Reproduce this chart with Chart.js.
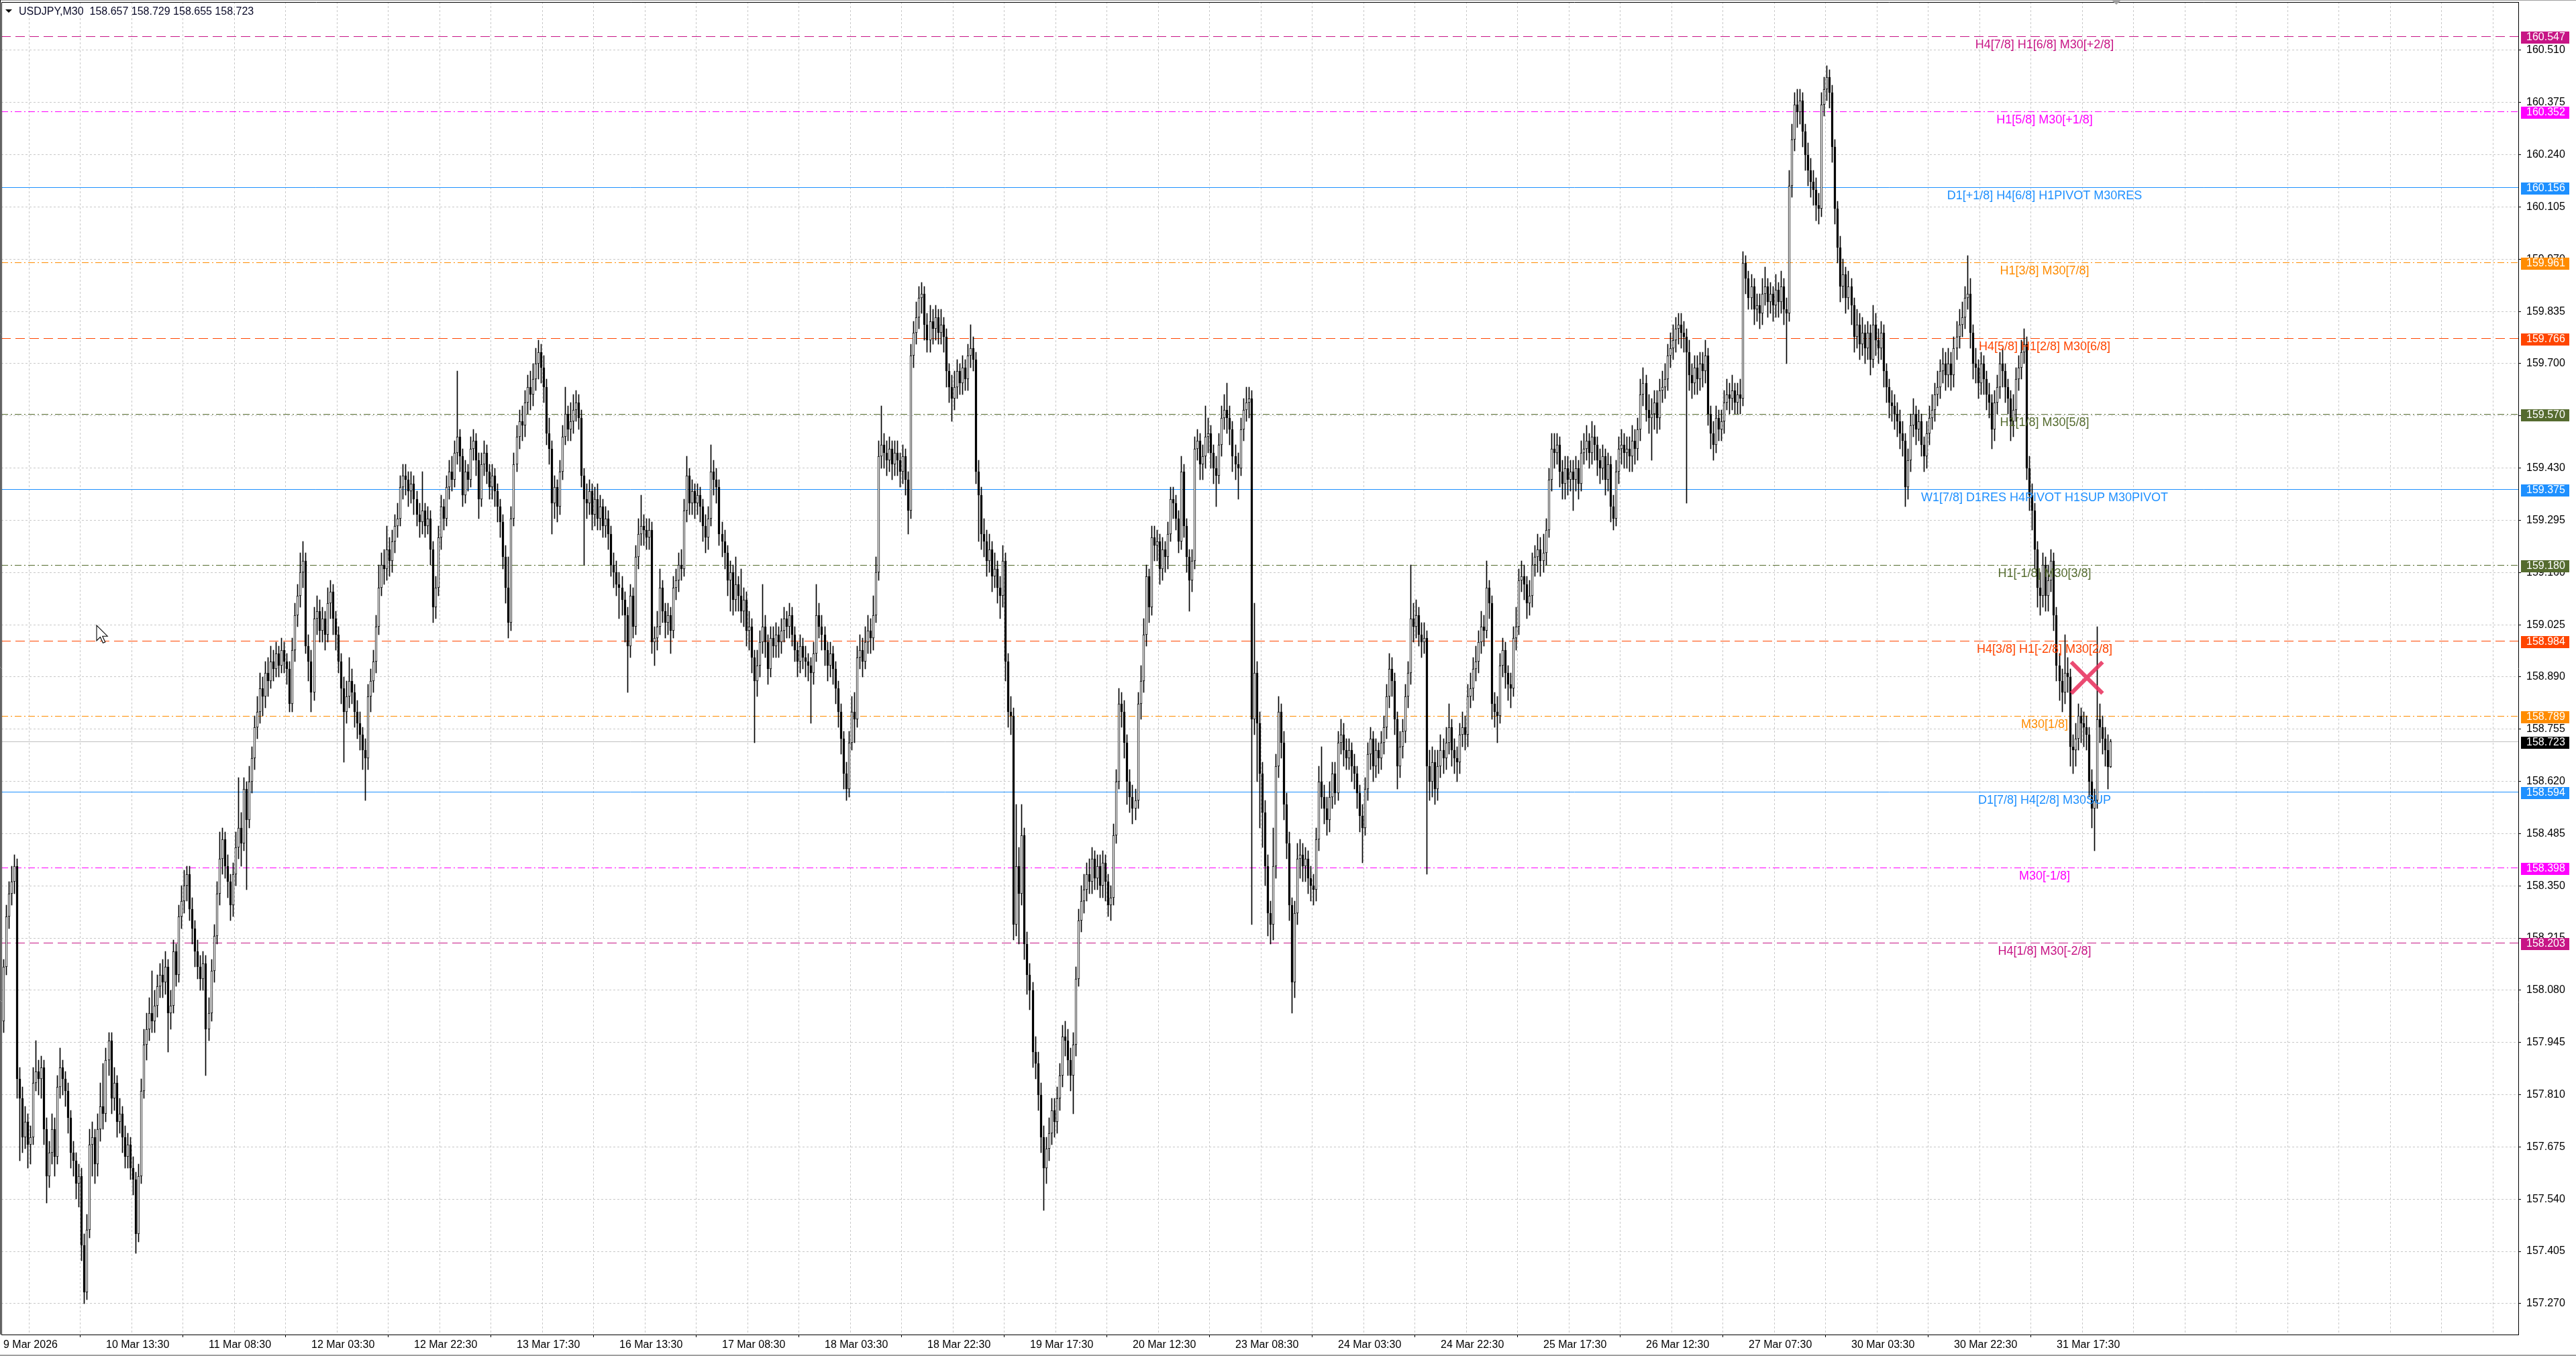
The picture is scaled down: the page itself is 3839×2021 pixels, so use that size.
<!DOCTYPE html>
<html>
<head>
<meta charset="utf-8">
<title>USDJPY,M30</title>
<script src="https://cdn.jsdelivr.net/npm/chart.js@4.4.1/dist/chart.umd.min.js"></script>
<style>
  html, body { margin: 0; padding: 0; background: #fff; }
  canvas { display: block; }
</style>
</head>
<body>
<canvas id="chart" width="3839" height="2021"></canvas>
<script>
// USDJPY M30 bars, one value per bar (open = previous close)
const firstOpen = 158.00;

const closes = [
  158.14,158.27,158.33,158.36,158.40,157.85,157.80,157.70,157.74,157.68,157.70,157.84,157.87,157.85,157.88,157.72,157.60,157.66,157.72,157.65,
  157.83,157.88,157.85,157.82,157.75,157.66,157.64,157.58,157.60,157.42,157.30,157.46,157.68,157.70,157.63,157.72,157.78,157.76,157.90,157.95,
  157.80,157.84,157.74,157.76,157.70,157.65,157.68,157.62,157.59,157.45,157.60,157.82,157.94,157.98,158.02,158.00,158.04,158.09,158.12,158.10,
  158.14,158.02,158.04,158.18,158.12,158.27,158.31,158.35,158.38,158.29,158.24,158.18,158.14,158.11,158.15,157.98,158.02,158.13,158.22,158.33,
  158.42,158.47,158.40,158.36,158.30,158.38,158.45,158.50,158.46,158.60,158.52,158.62,158.68,158.76,158.80,158.86,158.84,158.90,158.88,158.93,
  158.91,158.95,158.92,158.96,158.93,158.91,158.82,158.96,159.05,159.10,159.16,159.19,158.97,158.93,158.85,159.04,159.06,159.01,159.04,159.00,
  159.08,159.11,159.04,159.00,158.93,158.86,158.80,158.84,158.88,158.85,158.80,158.77,158.74,158.70,158.68,158.84,158.88,158.93,159.02,159.12,
  159.18,159.17,159.22,159.19,159.24,159.28,159.30,159.38,159.41,159.40,159.37,159.39,159.35,159.31,159.29,159.32,159.28,159.30,159.22,159.07,
  159.12,159.25,159.33,159.30,159.38,159.42,159.40,159.47,159.51,159.46,159.36,159.42,159.40,159.48,159.50,159.45,159.35,159.44,159.47,159.42,
  159.38,159.41,159.37,159.33,159.29,159.20,159.12,159.03,159.30,159.44,159.51,159.55,159.54,159.60,159.64,159.62,159.66,159.70,159.73,159.69,
  159.64,159.52,159.48,159.34,159.38,159.33,159.42,159.51,159.57,159.53,159.55,159.58,159.60,159.56,159.41,159.35,159.34,159.37,159.31,159.35,
  159.30,159.33,159.28,159.30,159.26,159.18,159.16,159.13,159.12,159.09,159.05,158.97,159.10,159.02,159.20,159.26,159.28,159.27,159.25,159.27,
  158.98,158.99,159.02,159.12,159.06,159.03,159.05,159.01,159.12,159.14,159.18,159.17,159.32,159.41,159.34,159.37,159.34,159.36,159.33,159.28,
  159.25,159.30,159.42,159.40,159.38,159.26,159.24,159.21,159.14,159.16,159.09,159.13,159.10,159.06,159.09,159.01,159.02,158.94,158.88,158.92,
  158.98,159.02,158.98,158.91,158.99,158.97,159.00,158.98,159.01,159.04,159.02,159.05,159.00,158.96,158.93,158.97,158.94,158.93,158.92,158.90,
  158.95,159.05,159.02,159.00,158.96,158.92,158.95,158.91,158.86,158.80,158.73,158.64,158.60,158.72,158.80,158.78,158.94,158.96,158.93,158.98,
  159.01,158.99,159.05,159.16,159.46,159.49,159.47,159.45,159.48,159.44,159.47,159.45,159.42,159.46,159.40,159.32,159.72,159.78,159.82,159.87,
  159.88,159.80,159.76,159.81,159.79,159.82,159.78,159.80,159.77,159.68,159.64,159.61,159.64,159.68,159.65,159.69,159.66,159.72,159.74,159.71,
  159.42,159.36,159.26,159.24,159.19,159.22,159.15,159.17,159.12,159.10,159.19,158.93,158.80,158.79,158.25,158.40,158.33,158.48,158.20,158.12,
  158.08,157.92,157.89,157.81,157.70,157.62,157.67,157.71,157.77,157.74,157.80,157.86,157.96,157.95,157.90,157.86,157.94,158.11,158.26,158.31,
  158.34,158.38,158.36,158.42,158.37,158.40,158.35,158.41,158.36,158.30,158.32,158.48,158.62,158.82,158.80,158.72,158.62,158.58,158.55,158.57,
  158.82,158.88,159.00,159.15,159.07,159.25,159.23,159.24,159.17,159.22,159.20,159.26,159.35,159.34,159.30,159.24,159.42,159.28,159.20,159.14,
  159.19,159.48,159.50,159.44,159.46,159.51,159.52,159.47,159.43,159.41,159.49,159.56,159.58,159.56,159.53,159.46,159.44,159.43,159.53,159.58,
  159.60,159.61,158.78,158.90,158.77,158.64,158.54,158.40,158.28,158.25,158.40,158.66,158.80,158.72,158.56,158.46,158.30,158.10,158.28,158.42,
  158.43,158.40,158.42,158.37,158.35,158.34,158.47,158.62,158.58,158.55,158.52,158.58,158.64,158.59,158.72,158.74,158.70,158.68,158.70,158.66,
  158.64,158.59,158.53,158.50,158.60,158.69,158.73,158.66,158.70,158.68,158.72,158.76,158.84,158.91,158.88,158.78,158.66,158.71,158.75,158.84,
  158.90,159.04,159.02,159.05,159.00,158.98,158.99,158.66,158.62,158.67,158.60,158.66,158.70,158.68,158.72,158.76,158.70,158.68,158.67,158.74,
  158.76,158.74,158.84,158.86,158.91,158.93,158.98,159.02,159.01,159.12,159.08,158.82,158.80,158.79,158.92,158.96,158.90,158.87,158.86,158.99,
  159.02,159.14,159.15,159.13,159.08,159.10,159.18,159.20,159.22,159.19,159.21,159.27,159.40,159.48,159.47,159.49,159.42,159.39,159.43,159.40,
  159.42,159.40,159.43,159.39,159.47,159.48,159.50,159.47,159.51,159.49,159.45,159.43,159.46,159.40,159.44,159.33,159.30,159.42,159.48,159.49,
  159.47,159.48,159.46,159.50,159.48,159.53,159.62,159.65,159.58,159.56,159.57,159.60,159.56,159.63,159.64,159.66,159.72,159.74,159.76,159.79,
  159.80,159.78,159.77,159.73,159.67,159.65,159.69,159.66,159.70,159.68,159.72,159.57,159.52,159.49,159.56,159.53,159.55,159.60,159.62,159.61,
  159.63,159.60,159.62,159.61,159.96,159.92,159.87,159.90,159.84,159.85,159.83,159.88,159.90,159.86,159.88,159.85,159.89,159.86,159.90,159.84,
  159.83,160.16,160.28,160.37,160.35,160.38,160.30,160.24,160.20,160.17,160.15,160.11,160.10,160.37,160.41,160.44,160.40,160.26,160.10,160.00,
  159.90,159.93,159.87,159.90,159.85,159.77,159.80,159.75,159.78,159.74,159.78,159.71,159.80,159.76,159.74,159.78,159.68,159.64,159.60,159.59,
  159.57,159.55,159.52,159.50,159.38,159.45,159.54,159.57,159.53,159.55,159.49,159.46,159.52,159.56,159.58,159.62,159.64,159.68,159.70,159.67,
  159.70,159.67,159.74,159.77,159.80,159.82,159.87,159.88,159.78,159.70,159.69,159.65,159.70,159.66,159.62,159.60,159.53,159.60,159.64,159.70,
  159.68,159.64,159.61,159.55,159.58,159.66,159.69,159.73,159.75,159.43,159.36,159.32,159.22,159.12,159.10,159.18,159.10,159.14,159.19,159.05,
  158.92,158.88,158.85,158.90,158.89,158.71,158.70,158.73,158.79,158.77,158.76,158.74,158.62,158.55,158.57,158.78,158.76,158.73,158.70,158.657,158.723
];

const highs = [
  158.16,158.30,158.36,158.40,158.43,158.42,157.88,157.83,157.78,157.76,157.73,157.88,157.95,157.90,157.91,157.90,157.75,157.69,157.76,157.75,
  157.86,157.93,157.90,157.87,157.84,157.77,157.69,157.66,157.63,157.62,157.45,157.50,157.72,157.74,157.72,157.76,157.84,157.89,157.93,157.97,
  157.97,157.88,157.86,157.80,157.78,157.73,157.71,157.70,157.65,157.61,157.63,157.85,157.98,158.02,158.06,158.13,158.08,158.12,158.15,158.16,
  158.18,158.16,158.08,158.21,158.20,158.30,158.35,158.39,158.40,158.40,158.32,158.26,158.21,158.17,158.18,158.17,158.06,158.16,158.25,158.36,
  158.49,158.50,158.49,158.43,158.38,158.41,158.49,158.63,158.54,158.63,158.62,158.66,158.71,158.79,158.84,158.90,158.89,158.93,158.94,158.97,
  158.96,158.98,158.97,158.99,158.98,158.95,158.93,158.99,159.08,159.13,159.21,159.24,159.21,159.00,158.96,159.07,159.10,159.09,159.07,159.06,
  159.12,159.14,159.13,159.06,159.02,158.95,158.89,158.88,158.94,158.91,158.87,158.83,158.80,158.76,158.73,158.87,158.91,158.96,159.05,159.18,
  159.21,159.22,159.28,159.25,159.27,159.31,159.34,159.41,159.44,159.44,159.42,159.42,159.41,159.37,159.34,159.42,159.34,159.33,159.32,159.24,
  159.15,159.28,159.36,159.35,159.41,159.45,159.46,159.50,159.68,159.53,159.48,159.45,159.44,159.51,159.53,159.52,159.47,159.47,159.50,159.49,
  159.44,159.44,159.43,159.39,159.35,159.31,159.23,159.20,159.33,159.47,159.54,159.58,159.59,159.63,159.67,159.68,159.70,159.74,159.76,159.75,
  159.72,159.66,159.56,159.50,159.41,159.40,159.45,159.54,159.64,159.59,159.60,159.62,159.63,159.62,159.58,159.43,159.39,159.40,159.39,159.38,
  159.39,159.36,159.35,159.33,159.32,159.28,159.21,159.19,159.16,159.15,159.11,159.07,159.13,159.12,159.23,159.30,159.36,159.31,159.30,159.30,
  159.29,159.02,159.06,159.17,159.14,159.08,159.08,159.07,159.15,159.17,159.21,159.22,159.35,159.46,159.43,159.40,159.39,159.39,159.38,159.35,
  159.31,159.33,159.49,159.45,159.43,159.40,159.29,159.27,159.23,159.19,159.18,159.20,159.15,159.17,159.12,159.11,159.06,159.04,158.96,158.96,
  159.01,159.13,159.05,159.00,159.02,159.02,159.03,159.02,159.04,159.07,159.06,159.08,159.07,159.02,158.98,159.00,158.99,158.97,158.95,158.94,
  158.98,159.13,159.08,159.05,159.02,158.98,158.98,158.97,158.93,158.88,158.82,158.75,158.67,158.75,158.84,158.85,158.97,159.00,158.99,159.02,
  159.05,159.04,159.10,159.20,159.50,159.59,159.52,159.50,159.51,159.50,159.50,159.50,159.47,159.49,159.48,159.42,159.75,159.81,159.86,159.90,
  159.91,159.90,159.83,159.85,159.84,159.85,159.84,159.84,159.82,159.79,159.70,159.67,159.68,159.71,159.70,159.72,159.71,159.75,159.80,159.77,
  159.73,159.45,159.38,159.30,159.27,159.26,159.24,159.21,159.19,159.15,159.23,159.21,158.95,158.84,158.81,158.56,158.45,158.56,158.50,158.23,
  158.15,158.10,157.96,157.92,157.84,157.73,157.70,157.75,157.80,157.80,157.83,157.89,157.99,158.00,157.98,157.93,157.97,158.14,158.29,158.35,
  158.38,158.41,158.42,158.45,158.44,158.43,158.43,158.44,158.43,158.38,158.35,158.51,158.65,158.86,158.85,158.83,158.74,158.65,158.61,158.60,
  158.85,158.92,159.04,159.18,159.17,159.28,159.28,159.27,159.26,159.25,159.24,159.29,159.38,159.38,159.36,159.32,159.46,159.44,159.30,159.22,
  159.22,159.51,159.53,159.52,159.49,159.59,159.56,159.54,159.49,159.46,159.52,159.59,159.62,159.65,159.59,159.55,159.49,159.47,159.56,159.61,
  159.64,159.64,159.63,159.08,158.93,158.80,158.67,158.57,158.43,158.31,158.50,158.69,158.84,158.82,158.75,158.59,158.49,158.32,158.31,158.46,
  158.47,158.46,158.45,158.44,158.40,158.38,158.50,158.66,158.71,158.61,158.58,158.62,158.67,158.67,158.75,158.78,158.77,158.73,158.73,158.72,
  158.69,158.66,158.61,158.56,158.63,158.72,158.76,158.75,158.73,158.72,158.75,158.79,158.87,158.95,158.94,158.90,158.80,158.75,158.78,158.87,
  158.93,159.18,159.08,159.09,159.07,159.03,159.03,159.01,158.70,158.71,158.70,158.70,158.74,158.73,158.76,158.82,158.78,158.73,158.71,158.77,
  158.80,158.79,158.87,158.90,158.94,158.97,159.01,159.06,159.05,159.19,159.14,159.10,158.85,158.84,158.95,158.99,158.98,158.92,158.90,159.02,
  159.07,159.17,159.19,159.18,159.15,159.14,159.21,159.23,159.26,159.25,159.26,159.30,159.43,159.52,159.52,159.52,159.51,159.45,159.46,159.46,
  159.45,159.45,159.46,159.45,159.50,159.52,159.54,159.52,159.55,159.54,159.51,159.48,159.49,159.48,159.47,159.46,159.36,159.45,159.51,159.53,
  159.52,159.51,159.51,159.54,159.53,159.56,159.66,159.69,159.67,159.62,159.61,159.63,159.63,159.66,159.68,159.70,159.75,159.78,159.80,159.82,
  159.83,159.83,159.81,159.79,159.76,159.70,159.72,159.72,159.73,159.73,159.76,159.74,159.59,159.55,159.59,159.58,159.58,159.63,159.66,159.65,
  159.67,159.65,159.65,159.66,159.99,159.98,159.94,159.93,159.92,159.88,159.88,159.92,159.95,159.92,159.91,159.90,159.93,159.91,159.94,159.92,
  159.87,160.20,160.32,160.40,160.41,160.41,160.40,160.32,160.27,160.23,160.20,160.18,160.14,160.40,160.44,160.47,160.46,160.42,160.28,160.12,
  160.03,159.97,159.95,159.94,159.92,159.87,159.84,159.83,159.82,159.80,159.81,159.80,159.85,159.83,159.79,159.81,159.80,159.70,159.66,159.63,
  159.62,159.60,159.58,159.55,159.52,159.48,159.57,159.61,159.59,159.58,159.57,159.51,159.55,159.59,159.62,159.65,159.68,159.71,159.74,159.73,
  159.74,159.73,159.77,159.81,159.84,159.86,159.90,159.98,159.92,159.80,159.74,159.71,159.73,159.72,159.68,159.65,159.62,159.63,159.67,159.73,
  159.74,159.70,159.66,159.63,159.62,159.69,159.72,159.76,159.79,159.77,159.46,159.39,159.34,159.24,159.16,159.21,159.20,159.18,159.22,159.21,
  159.07,158.95,158.91,159.00,158.94,158.91,158.74,158.77,158.82,158.81,158.80,158.79,158.76,158.65,158.60,159.02,158.82,158.79,158.76,158.74,158.729
];

const lows = [
  157.97,158.12,158.24,158.30,158.33,157.80,157.64,157.66,157.67,157.62,157.63,157.68,157.82,157.81,157.80,157.68,157.53,157.57,157.63,157.60,
  157.63,157.80,157.81,157.78,157.71,157.62,157.60,157.54,157.52,157.38,157.27,157.28,157.44,157.60,157.58,157.60,157.69,157.72,157.74,157.86,
  157.76,157.77,157.70,157.71,157.66,157.62,157.62,157.59,157.55,157.40,157.43,157.58,157.80,157.90,157.95,157.97,157.97,158.01,158.06,158.06,
  158.07,157.92,157.98,158.02,158.09,158.10,158.24,158.28,158.31,158.26,158.20,158.14,158.11,158.08,158.08,157.86,157.95,158.00,158.10,158.20,
  158.30,158.38,158.37,158.32,158.26,158.27,158.35,158.42,158.40,158.44,158.34,158.50,158.59,158.65,158.73,158.77,158.79,158.81,158.84,158.86,
  158.88,158.89,158.89,158.90,158.90,158.87,158.80,158.80,158.93,159.02,159.07,159.12,158.95,158.88,158.80,158.83,159.00,158.98,158.98,158.96,
  158.98,159.04,159.00,158.96,158.90,158.82,158.67,158.77,158.81,158.82,158.76,158.73,158.70,158.65,158.57,158.65,158.80,158.85,158.90,159.00,
  159.10,159.13,159.14,159.15,159.16,159.21,159.25,159.28,159.35,159.36,159.33,159.34,159.31,159.28,159.25,159.26,159.25,159.26,159.18,159.03,
  159.04,159.10,159.22,159.27,159.28,159.35,159.37,159.38,159.44,159.42,159.33,159.34,159.37,159.38,159.45,159.41,159.30,159.33,159.41,159.39,
  159.35,159.35,159.33,159.29,159.25,159.17,159.08,158.99,159.01,159.28,159.42,159.48,159.50,159.51,159.57,159.58,159.59,159.63,159.66,159.65,
  159.60,159.49,159.44,159.26,159.30,159.29,159.31,159.40,159.49,159.50,159.50,159.52,159.55,159.53,159.38,159.18,159.30,159.31,159.27,159.28,
  159.27,159.27,159.25,159.25,159.22,159.15,159.12,159.10,159.04,159.05,158.98,158.85,158.94,158.99,159.00,159.17,159.23,159.23,159.22,159.22,
  158.95,158.92,158.96,159.00,159.03,158.99,159.00,158.95,158.99,159.09,159.11,159.14,159.15,159.29,159.31,159.31,159.30,159.31,159.29,159.24,
  159.21,159.22,159.28,159.36,159.34,159.23,159.20,159.17,159.10,159.06,159.05,159.06,159.06,159.03,159.02,158.97,158.96,158.90,158.72,158.84,
  158.89,158.95,158.94,158.87,158.89,158.94,158.94,158.94,158.95,158.98,158.99,158.99,158.97,158.93,158.89,158.90,158.91,158.89,158.88,158.77,
  158.87,158.93,158.99,158.96,158.92,158.88,158.89,158.87,158.82,158.76,158.69,158.60,158.57,158.58,158.70,158.72,158.76,158.91,158.89,158.91,
  158.95,158.95,158.96,159.03,159.14,159.43,159.43,159.41,159.42,159.40,159.41,159.41,159.38,159.39,159.36,159.26,159.30,159.69,159.75,159.79,
  159.83,159.76,159.73,159.73,159.75,159.76,159.75,159.75,159.73,159.64,159.60,159.55,159.58,159.61,159.62,159.62,159.63,159.63,159.69,159.68,
  159.39,159.24,159.22,159.20,159.15,159.16,159.11,159.12,159.08,159.04,159.07,158.88,158.76,158.74,158.21,158.22,158.20,158.30,158.16,158.07,
  158.03,157.88,157.85,157.77,157.66,157.51,157.58,157.64,157.68,157.70,157.71,157.77,157.83,157.91,157.86,157.82,157.76,157.91,158.09,158.23,
  158.28,158.31,158.33,158.33,158.34,158.34,158.32,158.32,158.31,158.27,158.26,158.30,158.46,158.60,158.76,158.68,158.56,158.54,158.51,158.52,
  158.55,158.78,158.85,158.97,159.03,159.05,159.19,159.19,159.13,159.14,159.16,159.17,159.24,159.30,159.27,159.21,159.22,159.25,159.16,159.06,
  159.11,159.17,159.45,159.40,159.40,159.43,159.47,159.43,159.39,159.33,159.39,159.46,159.53,159.52,159.49,159.42,159.40,159.35,159.41,159.50,
  159.55,159.56,158.25,158.74,158.62,158.50,158.45,158.35,158.22,158.20,158.21,158.37,158.63,158.68,158.52,158.42,158.26,158.02,158.06,158.25,
  158.37,158.36,158.36,158.33,158.31,158.30,158.31,158.44,158.55,158.51,158.48,158.49,158.55,158.56,158.57,158.69,158.66,158.65,158.65,158.62,
  158.60,158.55,158.49,158.41,158.48,158.57,158.65,158.62,158.63,158.64,158.65,158.69,158.73,158.81,158.84,158.74,158.60,158.63,158.68,158.72,
  158.81,158.87,158.98,158.99,158.97,158.94,158.95,158.38,158.57,158.58,158.56,158.57,158.63,158.64,158.65,158.69,158.66,158.64,158.62,158.64,
  158.71,158.70,158.71,158.81,158.83,158.88,158.90,158.95,158.97,158.99,159.04,158.78,158.76,158.72,158.77,158.89,158.86,158.83,158.81,158.84,
  158.96,159.00,159.11,159.09,159.04,159.05,159.07,159.15,159.16,159.15,159.16,159.18,159.25,159.37,159.43,159.44,159.38,159.35,159.35,159.36,
  159.37,159.32,159.37,159.35,159.37,159.44,159.45,159.43,159.44,159.45,159.41,159.39,159.40,159.36,159.37,159.29,159.27,159.28,159.39,159.44,
  159.43,159.43,159.42,159.42,159.44,159.45,159.50,159.59,159.55,159.52,159.45,159.53,159.52,159.53,159.60,159.61,159.63,159.69,159.71,159.73,
  159.75,159.74,159.73,159.34,159.63,159.61,159.62,159.62,159.63,159.64,159.65,159.54,159.48,159.45,159.47,159.50,159.50,159.52,159.58,159.57,
  159.58,159.57,159.57,159.57,159.59,159.88,159.84,159.84,159.80,159.81,159.79,159.80,159.85,159.82,159.83,159.81,159.82,159.82,159.83,159.80,
  159.70,159.81,160.13,160.25,160.31,160.32,160.26,160.20,160.16,160.13,160.11,160.07,160.06,160.08,160.34,160.38,160.36,160.22,160.06,159.96,
  159.86,159.87,159.83,159.84,159.80,159.73,159.74,159.71,159.72,159.70,159.71,159.67,159.69,159.72,159.70,159.71,159.64,159.60,159.56,159.55,
  159.53,159.51,159.48,159.46,159.33,159.35,159.42,159.51,159.49,159.50,159.46,159.42,159.43,159.49,159.53,159.55,159.59,159.61,159.65,159.63,
  159.64,159.63,159.64,159.71,159.74,159.77,159.79,159.84,159.74,159.66,159.65,159.61,159.62,159.62,159.58,159.56,159.48,159.50,159.57,159.61,
  159.64,159.60,159.57,159.50,159.51,159.55,159.63,159.66,159.70,159.40,159.32,159.27,159.17,159.07,159.05,159.07,159.06,159.06,159.11,159.01,
  158.88,158.83,158.80,158.82,158.85,158.66,158.64,158.66,158.70,158.72,158.71,158.70,158.58,158.50,158.44,158.55,158.72,158.69,158.66,158.60,158.655
];

// axis tick labels
const timeLabels = [
  '9 Mar 2026', '10 Mar 13:30', '11 Mar 08:30', '12 Mar 03:30', '12 Mar 22:30', '13 Mar 17:30',
  '16 Mar 13:30', '17 Mar 08:30', '18 Mar 03:30', '18 Mar 22:30', '19 Mar 17:30', '20 Mar 12:30',
  '23 Mar 08:30', '24 Mar 03:30', '24 Mar 22:30', '25 Mar 17:30', '26 Mar 12:30', '27 Mar 07:30',
  '30 Mar 03:30', '30 Mar 22:30', '31 Mar 17:30'
];
const priceTicks = [
  160.510, 160.375, 160.240, 160.105, 159.970, 159.835, 159.700, 159.565, 159.430, 159.295, 159.160, 159.025,
  158.890, 158.755, 158.620, 158.485, 158.350, 158.215, 158.080, 157.945, 157.810, 157.675, 157.540, 157.405, 157.270
];

// Murrey math levels drawn by the indicator
const levelPrices = [160.547, 160.352, 160.156, 159.961, 159.766, 159.570, 159.375, 159.180, 158.984, 158.789, 158.594, 158.398, 158.203];
const levelNames = [
  'H4[7/8] H1[6/8] M30[+2/8]', 'H1[5/8] M30[+1/8]', 'D1[+1/8] H4[6/8] H1PIVOT M30RES', 'H1[3/8] M30[7/8]',
  'H4[5/8] H1[2/8] M30[6/8]', 'H1[1/8] M30[5/8]', 'W1[7/8] D1RES H4PIVOT H1SUP M30PIVOT', 'H1[-1/8] M30[3/8]',
  'H4[3/8] H1[-2/8] M30[2/8]', 'M30[1/8]', 'D1[7/8] H4[2/8] M30SUP', 'M30[-1/8]', 'H4[1/8] M30[-2/8]'
];
const bidPrice = 158.723;
const headerSymbol = 'USDJPY,M30';
const headerOHLC = [158.657, 158.729, 158.655, 158.723];
const crossMark = [{ x: 771.2, y: 158.888 }];

// styles
const levelColors = ['#c71585', '#ff00ff', '#1e90ff', '#ff8c00', '#ff4500', '#556b2f', '#1e90ff',
                     '#556b2f', '#ff4500', '#ff8c00', '#1e90ff', '#ff00ff', '#c71585'];
const DASH = [14, 7], DASHDOT = [10, 4, 2, 4], SOLID = [];
const levelDash = [DASH, DASHDOT, SOLID, DASHDOT, DASH, DASHDOT, SOLID, DASHDOT, DASH, DASHDOT, SOLID, DASHDOT, DASH];

const PX_PER_BAR = 3060 / 760;
const xMin = -3 / PX_PER_BAR;
const xMax = (3753 - 5) / PX_PER_BAR;
const PX_PER_YEN = 576.5;
const yMax = 160.510 + 72 / PX_PER_YEN;
const yMin = 160.510 - 1914 / PX_PER_YEN;

const opens = closes.map((c, i) => (i ? closes[i - 1] : firstOpen));
const bodies = closes.map((c, i) => ({ x: i, y: [opens[i], c] }));
const wicks = closes.map((c, i) => ({ x: i, y: [lows[i], highs[i]] }));

const timeLabelAt = v => (v % 38 === 0 && v / 38 < timeLabels.length) ? timeLabels[v / 38] : '';

Chart.defaults.font.family = '"Liberation Sans", Arial, sans-serif';
Chart.defaults.color = '#000';

// keep candles on whole pixels like the terminal does
const pixelSnap = {
  id: 'pixelSnap',
  afterDatasetsUpdate(chart) {
    chart.data.datasets.forEach((ds, i) => {
      const meta = chart.getDatasetMeta(i);
      if (meta.type !== 'bar') return;
      meta.data.forEach(el => {
        el.x = Math.floor(el.x) + 0.5;
        el.y = Math.round(el.y);
        el.base = Math.round(el.base);
        if (el.base === el.y) el.base = el.y + 1;
      });
    });
  }
};

const overlay = {
  id: 'overlay',
  beforeDatasetsDraw(chart) {
    const { ctx, chartArea: a, scales: { y } } = chart;
    ctx.save();
    ctx.lineWidth = 1;
    levelPrices.forEach((p, i) => {
      const py = Math.round(y.getPixelForValue(p)) + 0.5;
      ctx.strokeStyle = levelColors[i];
      ctx.setLineDash(levelDash[i]);
      ctx.beginPath(); ctx.moveTo(a.left, py); ctx.lineTo(a.right, py); ctx.stroke();
    });
    const by = Math.round(y.getPixelForValue(bidPrice)) + 0.5;
    ctx.setLineDash([]);
    ctx.strokeStyle = '#c0c0c0';
    ctx.beginPath(); ctx.moveTo(a.left, by); ctx.lineTo(a.right, by); ctx.stroke();
    ctx.restore();
  },
  afterDatasetsDraw(chart) {
    const { ctx, scales: { y } } = chart;
    ctx.save();
    ctx.font = '18px "Liberation Sans", Arial, sans-serif';
    ctx.textAlign = 'center';
    ctx.textBaseline = 'alphabetic';
    levelPrices.forEach((p, i) => {
      ctx.fillStyle = levelColors[i];
      ctx.fillText(levelNames[i], 3047, Math.round(y.getPixelForValue(p)) + 18);
    });
    ctx.restore();
  },
  afterDraw(chart) {
    const { ctx, chartArea: a, scales: { y } } = chart;
    ctx.save();
    // window edges and chart frame
    ctx.fillStyle = '#a0a0a0';
    ctx.fillRect(0, 0, chart.width, 1);
    ctx.fillRect(0, chart.height - 2, chart.width, 2);
    ctx.strokeStyle = '#000';
    ctx.lineWidth = 1;
    ctx.beginPath();
    ctx.moveTo(0.5, 0); ctx.lineTo(0.5, a.bottom);
    ctx.moveTo(a.left + 0.5, a.bottom); ctx.lineTo(a.left + 0.5, a.top + 0.5); ctx.lineTo(a.right, a.top + 0.5);
    ctx.stroke();

    // price boxes on the right scale
    ctx.font = '16px "Liberation Sans", Arial, sans-serif';
    ctx.textAlign = 'left';
    ctx.textBaseline = 'middle';
    const box = (p, bg) => {
      const py = Math.round(y.getPixelForValue(p));
      ctx.fillStyle = bg;
      ctx.fillRect(a.right + 4, py - 7, 72, 18);
      ctx.fillStyle = '#fff';
      ctx.fillText(p.toFixed(3), a.right + 12, py + 2);
    };
    levelPrices.forEach((p, i) => box(p, levelColors[i]));
    box(bidPrice, '#000');

    // header
    ctx.fillStyle = '#000';
    ctx.beginPath(); ctx.moveTo(8, 14); ctx.lineTo(18, 14); ctx.lineTo(13, 19); ctx.closePath(); ctx.fill();
    ctx.fillStyle = '#0a0a28';
    ctx.textBaseline = 'alphabetic';
    ctx.fillText(headerSymbol + '  ' + headerOHLC.map(v => v.toFixed(3)).join(' '), 28, 22);

    // chart-shift marker and mouse pointer
    ctx.fillStyle = '#a0a0a0';
    ctx.beginPath(); ctx.moveTo(3148, 1); ctx.lineTo(3160, 1); ctx.lineTo(3154, 7); ctx.closePath(); ctx.fill();
    ctx.translate(144, 932);
    ctx.scale(1.35, 1.35);
    ctx.beginPath();
    ctx.moveTo(0, 0); ctx.lineTo(0, 17); ctx.lineTo(4, 13); ctx.lineTo(7, 19.5); ctx.lineTo(9.5, 18.5);
    ctx.lineTo(6.5, 12); ctx.lineTo(12, 12); ctx.closePath();
    ctx.fillStyle = '#fff'; ctx.fill();
    ctx.lineWidth = 0.8; ctx.strokeStyle = '#000'; ctx.stroke();
    ctx.restore();
  }
};

new Chart(document.getElementById('chart').getContext('2d'), {
  type: 'bar',
  data: {
    datasets: [
      {
        type: 'scatter', data: crossMark, order: 0,
        pointStyle: 'crossRot', pointRadius: 33, pointBorderWidth: 6,
        pointBorderColor: 'rgba(232, 50, 95, 0.88)', pointBackgroundColor: 'rgba(0,0,0,0)'
      },
      {
        data: bodies, order: 1, barThickness: 3, borderWidth: 1, borderColor: '#000', borderSkipped: false,
        backgroundColor: c => (c.raw && c.raw.y[1] < c.raw.y[0]) ? '#000' : '#fff'
      },
      { data: wicks, order: 2, barThickness: 1, borderWidth: 0, backgroundColor: '#000' }
    ]
  },
  options: {
    responsive: false,
    animation: false,
    devicePixelRatio: 1,
    events: [],
    datasets: { bar: { grouped: false } },
    layout: { autoPadding: false, padding: { left: 2, top: 3, right: 0, bottom: 0 } },
    plugins: { legend: { display: false }, tooltip: { enabled: false } },
    scales: {
      x: {
        type: 'linear', min: xMin, max: xMax, bounds: 'data', offset: false,
        afterBuildTicks: s => {
          const t = [];
          for (let v = 0; v <= s.max; v += 19) t.push({ value: v });
          s.ticks = t;
        },
        afterFit: s => { s.height = 32; s.paddingLeft = 0; s.paddingRight = 0; },
        grid: {
          color: '#c8c8c8', lineWidth: 1, tickLength: 4, tickBorderDash: [],
          tickColor: c => (c.tick && timeLabelAt(c.tick.value)) ? '#000' : 'rgba(0,0,0,0)'
        },
        border: { display: true, color: '#000', width: 1, dash: [3, 3] },
        ticks: {
          autoSkip: false, maxRotation: 0, minRotation: 0, align: 'start', padding: 2,
          color: '#000', font: { size: 16 }, callback: v => timeLabelAt(v)
        }
      },
      y: {
        type: 'linear', position: 'right', min: yMin, max: yMax, bounds: 'data',
        afterBuildTicks: s => { s.ticks = priceTicks.map(v => ({ value: v })); },
        afterFit: s => { s.width = 86; s.paddingTop = 0; s.paddingBottom = 0; },
        grid: { color: '#c8c8c8', lineWidth: 1, tickLength: 4, tickColor: '#000', tickBorderDash: [] },
        border: { display: true, color: '#000', width: 1, dash: [3, 3] },
        ticks: { autoSkip: false, padding: 8, color: '#000', font: { size: 16 }, callback: v => v.toFixed(3) }
      }
    }
  },
  plugins: [pixelSnap, overlay]
});
</script>
</body>
</html>
